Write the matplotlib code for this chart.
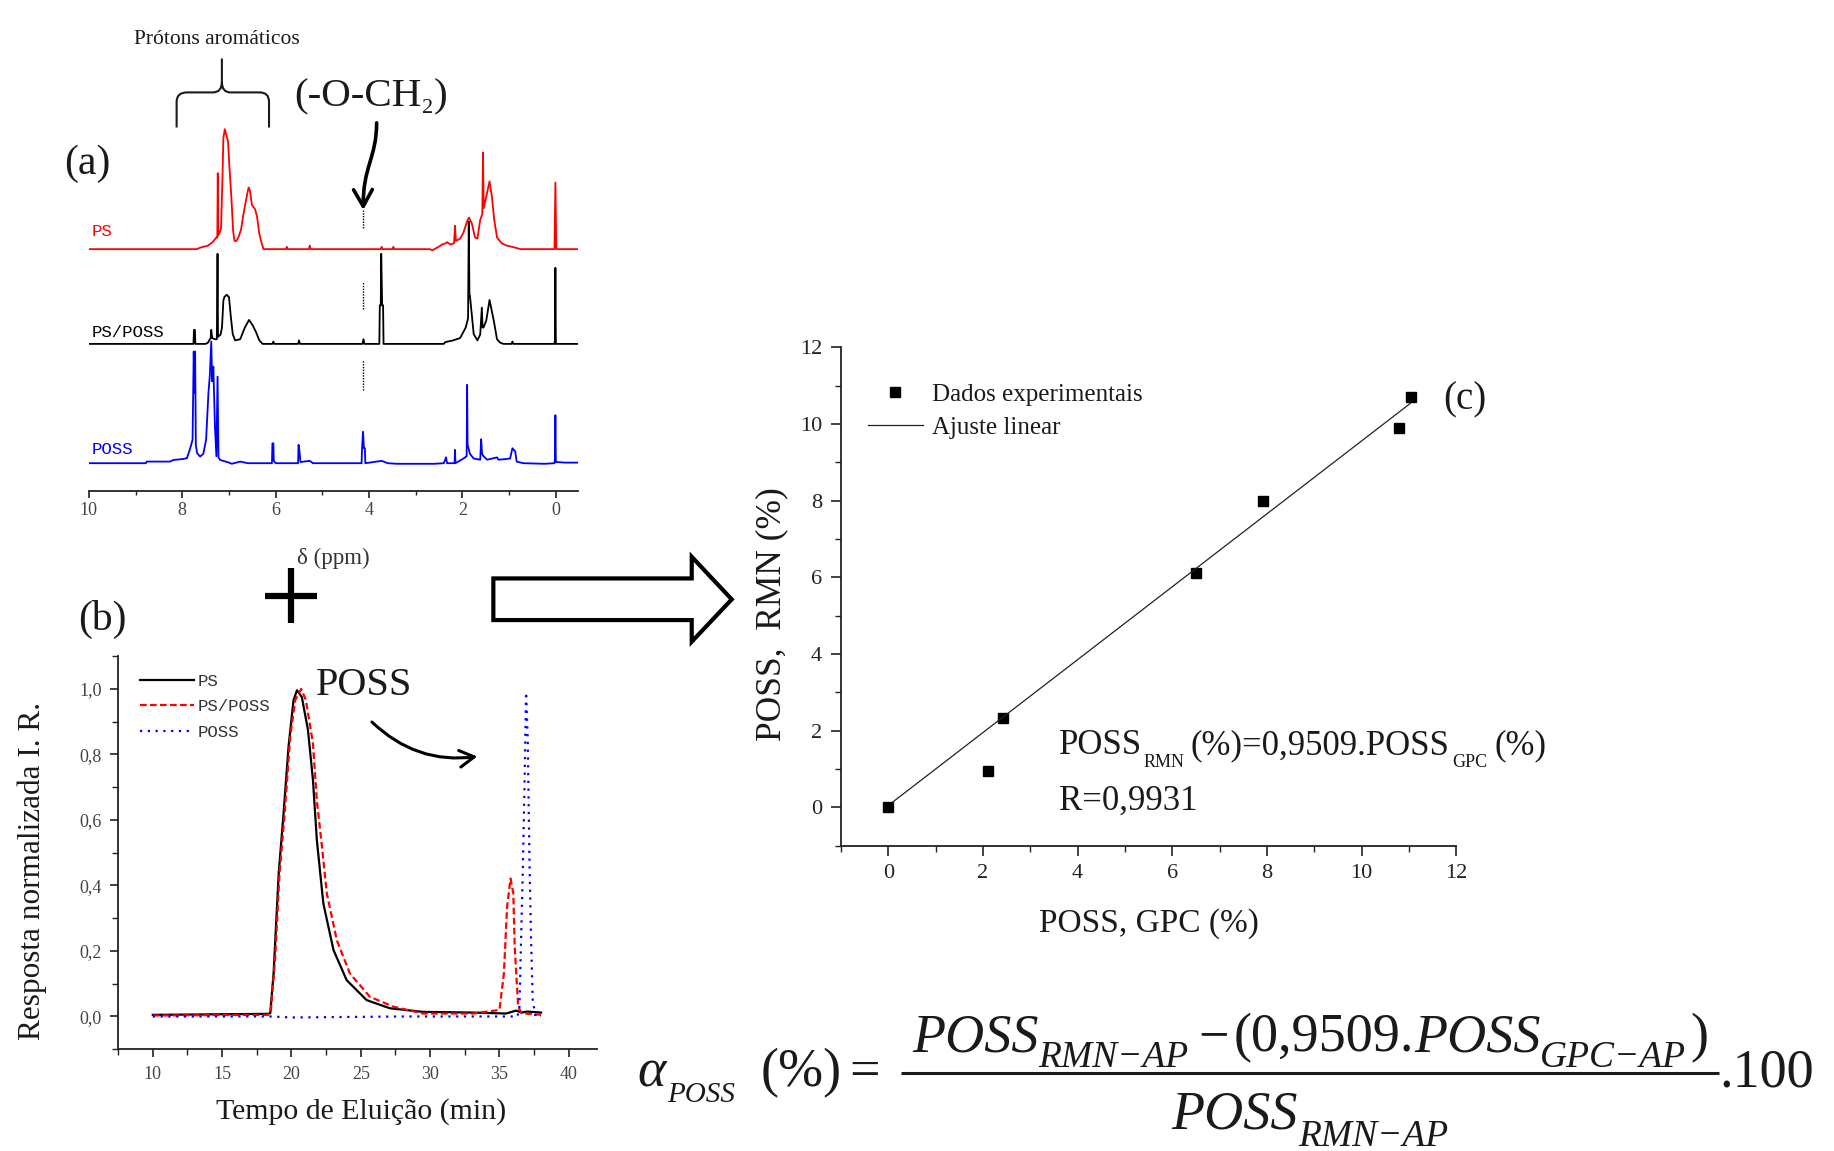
import matplotlib
matplotlib.use('Agg')
import matplotlib.pyplot as plt
from matplotlib.patches import Polygon, FancyArrowPatch, PathPatch
from matplotlib.path import Path
from matplotlib.ticker import MultipleLocator, FuncFormatter
import numpy as np

# ---------------- DATA ----------------
# (a) 1H NMR traces: (ppm, relative intensity)
NMR_PS = [(10.0, 0), (7.69, 0), (7.60, 1.5), (7.45, 3), (7.35, 6), (7.27, 10), (7.25, 10), (7.24, 65),
          (7.23, 12), (7.20, 14), (7.17, 18), (7.14, 60), (7.12, 95), (7.09, 102.6), (7.06, 98), (7.02, 92),
          (6.99, 70), (6.95, 45), (6.91, 15), (6.88, 7), (6.84, 7), (6.79, 11), (6.74, 17), (6.69, 30),
          (6.62, 45), (6.58, 52.7), (6.55, 50), (6.51, 38), (6.44, 34), (6.40, 28), (6.35, 13), (6.30, 5),
          (6.26, 0), (5.78, 0), (5.76, 2), (5.74, 0), (5.29, 0), (5.27, 3), (5.25, 0), (3.75, 0), (3.73, 2),
          (3.71, 0), (3.50, 0), (3.48, 2), (3.46, 0), (2.70, 0), (2.65, -1), (2.60, 0), (2.47, 3), (2.44, 4),
          (2.36, 5), (2.33, 6), (2.26, 4), (2.18, 5), (2.16, 20), (2.14, 7), (2.05, 9), (1.98, 14), (1.90, 24),
          (1.86, 27), (1.80, 22), (1.73, 10), (1.68, 9), (1.62, 25), (1.575, 30), (1.56, 82.6), (1.545, 35),
          (1.49, 45), (1.42, 58), (1.37, 45), (1.32, 25), (1.26, 10), (1.16, 5), (1.05, 3), (0.94, 2),
          (0.80, 0.5), (0.75, 0), (0.03, 0), (0.01, 57), (-0.01, 0), (-0.47, 0)]
NMR_PSPOSS = [(10.0, 0), (7.78, 0), (7.76, 0), (7.75, 12), (7.73, 12), (7.72, 0), (7.50, 0), (7.45, 1),
              (7.41, 4), (7.39, 5), (7.38, 12), (7.36, 5), (7.30, 4), (7.26, 4), (7.245, 77), (7.235, 6),
              (7.18, 8), (7.15, 14), (7.12, 37), (7.10, 40), (7.05, 42), (7.00, 40), (6.96, 23), (6.92, 8.5),
              (6.87, 3), (6.76, 4), (6.66, 14), (6.57, 20.5), (6.49, 15.7), (6.42, 10), (6.35, 3), (6.28, 0),
              (6.07, 0), (6.05, 2), (6.03, 0), (5.52, 0), (5.50, 3), (5.48, 0), (4.14, 0), (4.12, 4), (4.10, 0),
              (3.78, 0), (3.77, 33), (3.75, 33), (3.74, 77), (3.72, 33), (3.70, 33), (3.69, 0), (2.40, 0),
              (2.37, 1.5), (2.20, 3), (2.05, 5), (1.93, 14), (1.88, 22), (1.865, 104.5), (1.85, 41), (1.84, 41),
              (1.80, 25), (1.76, 8.5), (1.68, 3), (1.62, 8), (1.585, 31), (1.57, 14), (1.55, 14), (1.49, 20),
              (1.42, 37.6), (1.33, 20), (1.26, 4), (1.19, 1), (1.12, 0), (0.95, 0), (0.93, 2), (0.91, 0),
              (0.03, 0), (0.02, 3), (0.01, 65), (0.0, 0), (-0.47, 0)]
NMR_POSS = [(10.0, 0), (8.78, 0), (8.76, 1.4), (8.26, 1.4), (8.19, 2.8), (8.0, 3.5), (7.90, 4.3), (7.83, 12.8),
            (7.78, 20), (7.755, 95.5), (7.74, 60), (7.725, 95.5), (7.71, 15), (7.68, 8.5), (7.62, 5.7),
            (7.55, 8), (7.49, 20), (7.44, 60), (7.41, 75), (7.38, 104), (7.36, 70), (7.335, 82.6), (7.30, 31),
            (7.27, 6), (7.245, 74), (7.225, 5), (7.19, 2.8), (7.0, 0.5), (6.94, -0.5), (6.76, 1.4), (6.6, 0),
            (6.08, 0), (6.07, 17), (6.05, 17), (6.04, 2), (6.0, 0), (5.52, 0), (5.51, 15.7), (5.49, 10),
            (5.47, 1), (5.27, 2), (5.2, 0), (4.16, 0), (4.15, 12.8), (4.13, 27), (4.11, 12.8), (4.09, 12.8),
            (4.08, 0), (3.73, 2), (3.6, 0), (3.4, -0.5), (2.6, -0.5), (2.4, 0), (2.35, 5), (2.33, 0), (2.17, 0),
            (2.16, 11.4), (2.15, 0), (1.98, 4), (1.91, 6), (1.90, 67), (1.89, 16), (1.84, 8), (1.76, 4),
            (1.62, 3), (1.60, 20.5), (1.58, 8), (1.55, 6), (1.47, 3), (1.26, 5), (1.23, 3), (1.08, 3.5),
            (0.98, 4), (0.93, 12.8), (0.87, 10), (0.84, 1.4), (0.70, 0), (0.24, -0.5), (0.03, 0), (0.02, 3),
            (0.01, 41), (0.0, 1), (-0.2, 0.5), (-0.47, 0.5)]
NMR_LABELS = ['PS', 'PS/POSS', 'POSS']
OCH2_PPM = 4.12
NMR_TICKS = [0, 2, 4, 6, 8, 10]

# (b) GPC traces: (elution time min, normalised RI response)
GPC_PS = [(10, 0.005), (18.3, 0.008), (18.47, 0.01), (18.71, 0.131), (19.08, 0.437), (19.43, 0.62),
          (19.79, 0.824), (20.15, 0.966), (20.4, 0.996), (20.75, 0.975), (21.19, 0.875), (21.55, 0.722),
          (21.83, 0.539), (22.3, 0.345), (23.03, 0.203), (23.98, 0.111), (25.42, 0.05), (27.1, 0.025),
          (29.49, 0.014), (33.08, 0.012), (35.48, 0.009), (36.2, 0.018), (36.6, 0.012), (37.0, 0.015),
          (38.0, 0.012)]
GPC_PSPOSS = [(10, 0.003), (18.3, 0.005), (18.5, 0.01), (18.83, 0.182), (19.14, 0.437), (19.51, 0.62),
              (19.91, 0.854), (20.27, 0.966), (20.7, 1.0), (21.04, 0.966), (21.55, 0.834), (21.83, 0.66),
              (22.2, 0.518), (22.55, 0.376), (23.27, 0.233), (24.22, 0.131), (25.66, 0.06), (27.34, 0.03),
              (29.49, 0.009), (33.08, 0.009), (35.0, 0.02), (35.32, 0.131), (35.55, 0.335), (35.8, 0.421),
              (36.0, 0.376), (36.1, 0.213), (36.35, 0.03), (36.6, 0.01), (38.0, 0.005)]
GPC_POSS = [(10, 0.0), (18.5, 0.0), (20, -0.003), (28, 0.0), (36.3, 0.0), (36.44, 0.03), (36.68, 0.437),
            (36.8, 0.69), (36.92, 0.99), (37.04, 0.844), (37.16, 0.487), (37.28, 0.233), (37.4, 0.05),
            (37.6, 0.0), (38.0, 0.0)]
GPC_LABELS = ['PS', 'PS/POSS', 'POSS']

# (c) POSS content: GPC vs RMN (%)
POSS_GPC = [0.0, 2.10, 2.43, 6.50, 7.91, 10.80, 11.04]
POSS_RMN = [0.0, 0.94, 2.34, 6.11, 8.00, 9.90, 10.70]
FIT_SLOPE = 0.9509
FIT_INTERCEPT = 0.05
FIT_RANGE = [0.09, 11.03]
FIT_R = '0,9931'

# ---------------- LAYOUT ----------------
W, H = 1834, 1151
DW, DH = 1568.0, 984.0
SERIF = 'Liberation Serif'
MONO = 'Liberation Mono'
TXT = '#1a1a1a'

fig = plt.figure(figsize=(W / 100, H / 100), dpi=100)


def rect(l, t, r, b):
    return [l / DW, 1 - b / DH, (r - l) / DW, (b - t) / DH]


def comma(v, pos=None):
    return ('%.1f' % v).replace('.', ',')


# ---- (a) NMR ----
axA = fig.add_axes(rect(76, 100, 494, 420))
axA.set_xlim(10, -0.47)
axA.set_ylim(0, 320)
offsets = [207, 126, 24]
label_dy = [15, 10, 12]
colors = ['#ff0000', '#000000', '#0000ff']
for tr, off, col in zip([NMR_PS, NMR_PSPOSS, NMR_POSS], offsets, colors):
    x = np.array([p[0] for p in tr]); y = np.array([p[1] for p in tr])
    axA.plot(x, y + off, color=col, lw=1.3)
for lab, off, col, dy in zip(NMR_LABELS, offsets, colors, label_dy):
    axA.text(9.95, off + dy, lab, color=col, family=MONO, fontsize=12.5, ha='left', va='center')
marker_spans = [(225, 240.5), (156, 179), (87, 112)]
for lo, hi in marker_spans:
    axA.plot([OCH2_PPM, OCH2_PPM], [lo, hi], color='k', lw=1.0, ls=(0, (1, 1)))
for s in ['top', 'left', 'right']:
    axA.spines[s].set_visible(False)
axA.spines['bottom'].set_linewidth(1.3)
axA.spines['bottom'].set_color('#222')
axA.set_yticks([])
axA.set_xticks(NMR_TICKS)
axA.xaxis.set_minor_locator(MultipleLocator(1))
axA.tick_params(axis='x', which='major', direction='out', length=5, width=1.2, colors='#222',
                labelsize=13, labelcolor='#444', pad=3)
axA.tick_params(axis='x', which='minor', direction='out', length=3, width=1.0, colors='#222')
for t in axA.get_xticklabels():
    t.set_family(SERIF)
axA.patch.set_alpha(0)

# ---- (b) GPC ----
axB = fig.add_axes(rect(101, 561, 510, 897))
axB.set_xlim(7.5, 42.0)
axB.set_ylim(-0.1, 1.1)
lines = []
for tr, col, ls in zip([GPC_PS, GPC_PSPOSS, GPC_POSS], ['#000000', '#ff0000', '#0000ff'],
                       ['-', (0, (3, 1.5)), (0, (1, 2.5))]):
    x = [p[0] for p in tr]; y = [p[1] for p in tr]
    ln, = axB.plot(x, y, color=col, ls=ls, lw=1.6)
    lines.append(ln)
for s in ['top', 'right']:
    axB.spines[s].set_visible(False)
for s in ['left', 'bottom']:
    axB.spines[s].set_linewidth(1.3)
    axB.spines[s].set_color('#222')
axB.set_yticks([0, 0.2, 0.4, 0.6, 0.8, 1.0])
axB.yaxis.set_major_formatter(FuncFormatter(comma))
axB.yaxis.set_minor_locator(MultipleLocator(0.1))
axB.set_xticks([10, 15, 20, 25, 30, 35, 40])
axB.xaxis.set_minor_locator(MultipleLocator(2.5))
axB.tick_params(which='major', direction='out', length=6, width=1.2, colors='#222',
                labelsize=13, labelcolor='#444', pad=6)
axB.tick_params(which='minor', direction='out', length=4, width=1.0, colors='#222')
for t in axB.get_xticklabels() + axB.get_yticklabels():
    t.set_family(SERIF)
legB = axB.legend(lines, GPC_LABELS, loc='upper left', bbox_to_anchor=(120 / DW, 1 - 576 / DH),
                  bbox_transform=fig.transFigure, frameon=False, borderpad=0, borderaxespad=0,
                  handlelength=3.1, handletextpad=0.2, labelspacing=0.6,
                  prop={'family': MONO, 'size': 12.5})
for t in legB.get_texts():
    t.set_color('#333')
axB.patch.set_alpha(0)

# ---- (c) scatter ----
axC = fig.add_axes(rect(719, 297, 1245, 723))
axC.set_xlim(-1, 12)
axC.set_ylim(-1, 12)
sc, = axC.plot(POSS_GPC, POSS_RMN, ls='none', marker='s', color='k', ms=7.5, clip_on=False)
fx = np.array(FIT_RANGE)
fl, = axC.plot(fx, FIT_SLOPE * fx + FIT_INTERCEPT, color='#222', lw=0.9)
for s in ['top', 'right']:
    axC.spines[s].set_visible(False)
for s in ['left', 'bottom']:
    axC.spines[s].set_linewidth(1.3)
    axC.spines[s].set_color('#222')
axC.set_xticks(range(0, 13, 2))
axC.set_yticks(range(0, 13, 2))
axC.xaxis.set_minor_locator(MultipleLocator(1))
axC.yaxis.set_minor_locator(MultipleLocator(1))
axC.tick_params(which='major', direction='out', length=7, width=1.2, colors='#222',
                labelsize=16, labelcolor='#222', pad=6.5)
axC.tick_params(which='minor', direction='out', length=4.5, width=1.0, colors='#222')
for t in axC.get_xticklabels() + axC.get_yticklabels():
    t.set_family(SERIF)
legC = axC.legend([sc, fl], ['Dados experimentais', 'Ajuste linear'], loc='upper left',
                  bbox_to_anchor=(742 / DW, 1 - 328 / DH), bbox_transform=fig.transFigure,
                  frameon=False, borderpad=0, borderaxespad=0, numpoints=1,
                  handlelength=2.2, handletextpad=0.35, labelspacing=0.4,
                  prop={'family': SERIF, 'size': 18})
for t in legC.get_texts():
    t.set_color(TXT)
axC.patch.set_alpha(0)

# ---- overlay (design coordinates of the 1568x984 picture) ----
ov = fig.add_axes([0, 0, 1, 1], zorder=10)
ov.set_xlim(0, DW)
ov.set_ylim(DH, 0)
ov.axis('off')
ov.patch.set_alpha(0)
renderer = fig.canvas.get_renderer()


def seq(pieces, x0, ha='left'):
    objs = []
    for s, size, style, yb, gap in pieces:
        t = ov.text(0, yb, s, fontsize=size, fontstyle=style, family=SERIF, va='baseline',
                    ha='left', color=TXT)
        objs.append((t, gap))
    widths = [t.get_window_extent(renderer).width * DW / W + g for t, g in objs]
    total = sum(widths)
    x = x0 - (total / 2.0 if ha == 'center' else 0)
    for (t, g), w in zip(objs, widths):
        t.set_x(x)
        x += w
    return total


# labels of panels
ov.text(55, 140, '(a)', fontsize=30, family=SERIF, color=TXT, ha='left', va='center')
ov.text(67, 530, '(b)', fontsize=30, family=SERIF, color=TXT, ha='left', va='center')
ov.text(1234, 342, '(c)', fontsize=28, family=SERIF, color=TXT, ha='left', va='center')

ov.text(185, 34, 'Prótons aromáticos', fontsize=15.5, family=SERIF, color=TXT, ha='center', va='center')
seq([('(-O-CH', 29.5, 'normal', 91, 0), ('2', 16, 'normal', 97, 0), (')', 29.5, 'normal', 91, 0)], 252)

# brace
bv = [(151, 109), (151, 87), (151, 79), (160, 79), (182, 79), (189.7, 79), (189.7, 70), (189.7, 50),
      (189.7, 70), (189.7, 79), (197, 79), (222, 79), (230, 79), (230, 87), (230, 109)]
bc = [Path.MOVETO, Path.LINETO, Path.CURVE3, Path.CURVE3, Path.LINETO, Path.CURVE3, Path.CURVE3, Path.LINETO,
      Path.MOVETO, Path.CURVE3, Path.CURVE3, Path.LINETO, Path.CURVE3, Path.CURVE3, Path.LINETO]
ov.add_patch(PathPatch(Path(bv, bc), fc='none', ec=TXT, lw=1.5))

# curved arrow to -O-CH2
apath = Path([(322, 105), (322, 135), (310, 143), (310.6, 179.5)],
             [Path.MOVETO, Path.CURVE4, Path.CURVE4, Path.CURVE4])
ov.add_patch(FancyArrowPatch(path=apath, arrowstyle='->,head_length=0.8,head_width=0.45',
                             mutation_scale=15, lw=2.6, color='k'))

ov.text(285, 477, 'δ (ppm)', fontsize=16.5, family=SERIF, color='#333', ha='center', va='center')

# plus sign
ov.plot([226.6, 271.3], [509.6, 509.6], color='k', lw=4.5, solid_capstyle='butt')
ov.plot([248.5, 248.5], [486, 533], color='k', lw=4.5, solid_capstyle='butt')

# big hollow arrow
ov.add_patch(Polygon([(421.8, 494.5), (591.4, 494.5), (591.4, 476), (625.6, 512.4), (591.4, 548.6),
                      (591.4, 530.1), (421.8, 530.1)], closed=True, fc='white', ec='k', lw=3,
                     joinstyle='miter'))

# POSS annotation in (b)
ov.text(270, 586, 'POSS', fontsize=29, family=SERIF, color=TXT, ha='left', va='center')
ov.add_patch(FancyArrowPatch((316.3, 615.6), (410.4, 646.4), connectionstyle='arc3,rad=0.25',
                             arrowstyle='->,head_length=0.7,head_width=0.4', mutation_scale=15,
                             lw=2.2, color='k'))

# axis titles
ov.text(309, 950, 'Tempo de Eluição (min)', fontsize=21.5, family=SERIF, color=TXT, ha='center', va='center')
ov.text(28, 745, 'Resposta normalizada I. R.', fontsize=22.5, family=SERIF, color=TXT, ha='center',
        va='center', rotation=90)
ov.text(982, 790, 'POSS, GPC (%)', fontsize=24, family=SERIF, color=TXT, ha='center', va='center')
ov.text(660, 525, 'POSS,  RMN (%)', fontsize=25.5, family=SERIF, color=TXT, ha='center', va='center',
        rotation=90)

# fit equation
seq([('POSS', 25, 'normal', 645, 2), ('RMN', 13, 'normal', 656, 5), ('(%)=0,9509.POSS', 25, 'normal', 645, 2),
     ('GPC', 13, 'normal', 656, 6), ('(%)', 25, 'normal', 645, 0)], 905)
ov.text(905, 692, 'R=' + FIT_R, fontsize=25, family=SERIF, color=TXT, ha='left', va='baseline')

# alpha equation
seq([('α', 39, 'italic', 929, 1), ('POSS', 21, 'italic', 942, 0)], 545)
ov.text(650, 929, '(%)', fontsize=39, family=SERIF, color=TXT, ha='left', va='baseline')
ov.text(726, 929, '=', fontsize=39, family=SERIF, color=TXT, ha='left', va='baseline')
ov.plot([770, 1470], [917.6, 917.6], color=TXT, lw=2.2, solid_capstyle='butt')
seq([('POSS', 39, 'italic', 899, 0), ('RMN−AP', 27, 'italic', 912, 8), ('−', 39, 'normal', 899, 4),
     ('(0,9509.', 39, 'normal', 899, 0), ('POSS', 39, 'italic', 899, 0), ('GPC−AP', 27, 'italic', 912, 3),
     (')', 39, 'normal', 899, 0)], 1120, ha='center')
seq([('POSS', 39, 'italic', 965, 0), ('RMN−AP', 27, 'italic', 980, 0)], 1120, ha='center')
ov.text(1470, 929, '.100', fontsize=39, family=SERIF, color=TXT, ha='left', va='baseline')

fig.savefig('out.png', dpi=100)
